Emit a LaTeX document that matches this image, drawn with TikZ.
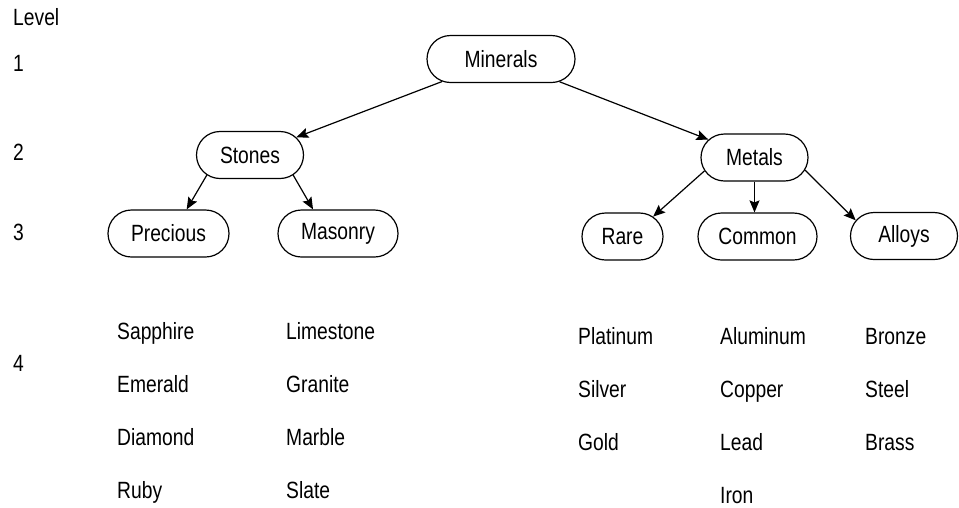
\documentclass[tikz,border=0pt]{standalone}
\usepackage{fontspec}
\setmainfont{Liberation Sans}[FakeStretch=0.82]
\usetikzlibrary{shapes.misc,arrows.meta}

\tikzset{
  cat/.style={rounded rectangle,draw,line width=1.2pt,minimum height=47pt,inner xsep=0pt},
  lbl/.style={anchor=base west,inner sep=0pt},
  tree/.style={-{Stealth[length=12pt,width=10pt,inset=2pt]},line width=1.2pt}
}

\begin{document}
\begin{tikzpicture}[x=1pt,y=-1pt,font=\fontsize{23.5}{26}\selectfont]
  \useasboundingbox (0,0) rectangle (959,507);
  % levels
  \node[lbl] (lv) at (13,25.5) {Level};
  \node[lbl] (lv1) at (13,71.5) {1};
  \node[lbl] (lv2) at (13,160.5) {2};
  \node[lbl] (lv3) at (13,240.5) {3};
  \node[lbl] (lv4) at (13,371.5) {4};
  % the tree
  \node[cat,minimum width=148pt] (minerals) at (501,59) {Minerals};
  \node[cat,minimum width=107pt] (stones) at (250,155) {Stones};
  \node[cat,minimum width=107pt] (metals) at (754.5,157.5) {Metals};
  \node[cat,minimum width=121pt] (precious) at (168.5,233.5) {Precious};
  \node[cat,minimum width=120pt] (masonry) at (338,233.5) {Masonry};
  \node[cat,minimum width=81pt] (rare) at (622.5,236.5) {Rare};
  \node[cat,minimum width=119pt] (common) at (757.5,236.5) {Common};
  \node[cat,minimum width=107pt] (alloys) at (904,236) {Alloys};
  \draw[tree] (minerals) -- (stones);
  \draw[tree] (minerals) -- (metals);
  \draw[tree] (stones.205) -- (precious.53);
  \draw[tree] (stones.335) -- (masonry.136);
  \draw[tree] (metals.195) -- (rare.33);
  \draw[tree] (metals.south) -- (metals.south |- common.north);
  \draw[tree] (metals.346) -- (alloys.162);
  % level 4
  \node[lbl] (sapphire) at (117,339) {Sapphire};
  \node[lbl] (emerald) at (117,392) {Emerald};
  \node[lbl] (diamond) at (117,445) {Diamond};
  \node[lbl] (ruby) at (117,498) {Ruby};
  \node[lbl] (limestone) at (286,339) {Limestone};
  \node[lbl] (granite) at (286,392) {Granite};
  \node[lbl] (marble) at (286,445) {Marble};
  \node[lbl] (slate) at (286,498) {Slate};
  \node[lbl] (platinum) at (578,344) {Platinum};
  \node[lbl] (silver) at (578,397) {Silver};
  \node[lbl] (gold) at (578,450) {Gold};
  \node[lbl] (aluminum) at (720,344) {Aluminum};
  \node[lbl] (copper) at (720,397) {Copper};
  \node[lbl] (lead) at (720,450) {Lead};
  \node[lbl] (iron) at (720,503) {Iron};
  \node[lbl] (bronze) at (865,344) {Bronze};
  \node[lbl] (steel) at (865,397) {Steel};
  \node[lbl] (brass) at (865,450) {Brass};
\end{tikzpicture}
\end{document}
